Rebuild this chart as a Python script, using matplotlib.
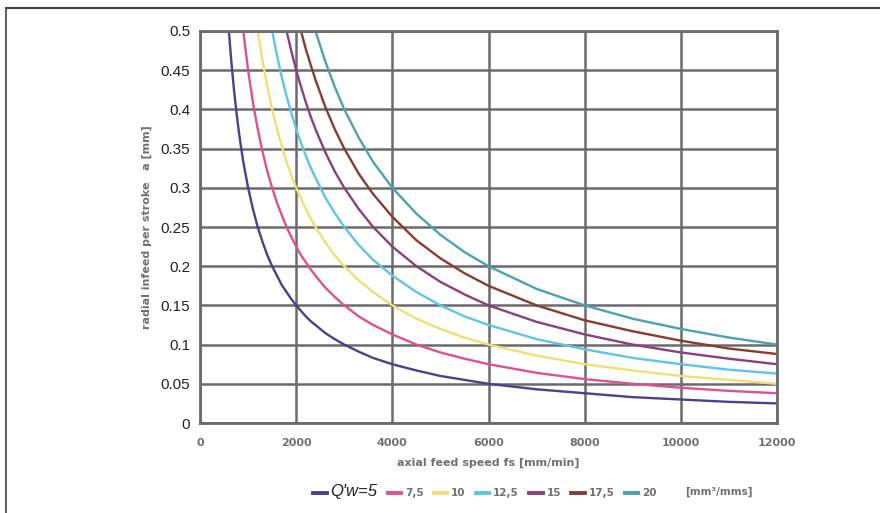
import matplotlib.pyplot as plt
from matplotlib.lines import Line2D

# axial feed speed fs [mm/min]
fs = [600, 650, 700, 750, 800, 850, 900, 1000, 1100, 1200, 1300, 1400, 1500, 1600,
      1700, 1800, 1900, 2000, 2100, 2200, 2300, 2400, 2600, 2800, 3000, 3300, 3600,
      4000, 4500, 5000, 5500, 6000, 7000, 8000, 9000, 10000, 11000, 12000]

# radial infeed per stroke a [mm] for each Q'w
a_5 = [.5, .462, .429, .4, .375, .353, .333, .3, .273, .25, .231, .214, .2, .188,
       .176, .167, .158, .15, .143, .136, .130, .125, .115, .107, .1, .091, .083,
       .075, .067, .06, .055, .05, .043, .038, .033, .03, .027, .025]
a_7_5 = [.75, .692, .643, .6, .563, .529, .5, .45, .409, .375, .346, .321, .3, .281,
         .265, .25, .237, .225, .214, .205, .196, .188, .173, .161, .15, .136, .125,
         .113, .1, .09, .082, .075, .064, .056, .05, .045, .041, .038]
a_10 = [1.0, .923, .857, .8, .75, .706, .667, .6, .545, .5, .462, .429, .4, .375,
        .353, .333, .316, .3, .286, .273, .261, .25, .231, .214, .2, .182, .167,
        .15, .133, .12, .109, .1, .086, .075, .067, .06, .055, .05]
a_12_5 = [1.25, 1.154, 1.071, 1.0, .938, .882, .833, .75, .682, .625, .577, .536, .5, .469,
          .441, .417, .395, .375, .357, .341, .326, .313, .288, .268, .25, .227, .208,
          .188, .167, .15, .136, .125, .107, .094, .083, .075, .068, .063]
a_15 = [1.5, 1.385, 1.286, 1.2, 1.125, 1.059, 1.0, .9, .818, .75, .692, .643, .6, .563,
        .529, .5, .474, .45, .429, .409, .391, .375, .346, .321, .3, .273, .25,
        .225, .2, .18, .164, .15, .129, .113, .1, .09, .082, .075]
a_17_5 = [1.75, 1.615, 1.5, 1.4, 1.313, 1.235, 1.167, 1.05, .955, .875, .808, .75, .7, .656,
          .618, .583, .553, .525, .5, .477, .457, .438, .404, .375, .35, .318, .292,
          .263, .233, .21, .191, .175, .15, .131, .117, .105, .095, .088]
a_20 = [2.0, 1.846, 1.714, 1.6, 1.5, 1.412, 1.333, 1.2, 1.091, 1.0, .923, .857, .8, .75,
        .706, .667, .632, .6, .571, .545, .522, .5, .462, .429, .4, .364, .333,
        .3, .267, .24, .218, .2, .171, .15, .133, .12, .109, .1]

labels = ["Q'w=5", "7,5", "10", "12,5", "15", "17,5", "20"]
series = [a_5, a_7_5, a_10, a_12_5, a_15, a_17_5, a_20]
colors = ["#4b3f8e", "#e0508f", "#f0df72", "#5ec5e6", "#8c3f7e", "#8a3b30", "#4aa2b2"]

xticks = [0, 2000, 4000, 6000, 8000, 10000, 12000]
yticks = [0, 0.05, 0.1, 0.15, 0.2, 0.25, 0.3, 0.35, 0.4, 0.45, 0.5]
ytick_labels = ["0", "0.05", "0.1", "0.15", "0.2", "0.25", "0.3", "0.35", "0.4", "0.45", "0.5"]

plt.rcParams['font.family'] = ['Liberation Sans', 'DejaVu Sans']
grey = '#707070'
small = dict(family='DejaVu Sans', size=8, weight='bold')

fig = plt.figure(figsize=(8.8, 5.13), dpi=100)
ax = fig.add_axes([0.2273, 0.1754, 0.6557, 0.7642])

for y, lab, c in zip(series, labels, colors):
    ax.plot(fs, y, color=c, lw=1.7, label=lab)

ax.set_xlim(0, 12000)
ax.set_ylim(0, 0.5)
ax.set_xticks(xticks)
ax.set_xticklabels([str(v) for v in xticks], fontdict=small, color=grey)
ax.set_yticks(yticks)
ax.set_yticklabels(ytick_labels, fontsize=11, color='#222222')
ax.tick_params(length=0, pad=7)
ax.tick_params(axis='x', pad=11)
ax.grid(True, color='#6b6b6b', lw=1.8)
ax.set_axisbelow(True)
for s in ax.spines.values():
    s.set_color('#6b6b6b')
    s.set_linewidth(2)

ax.set_xlabel("axial feed speed fs [mm/min]", fontdict=small, color=grey, labelpad=7)
ax.set_ylabel("radial infeed per stroke   a [mm]", fontdict=small, color=grey, labelpad=6)

leg = fig.legend(loc='center left', bbox_to_anchor=(0.345, 0.041), ncol=7, frameon=False,
                 handlelength=1.3, handletextpad=0.35, columnspacing=1.0,
                 prop={'family': 'DejaVu Sans', 'size': 7.5, 'weight': 'bold'})
for line in leg.get_lines():
    line.set_linewidth(2.8)
for i, t in enumerate(leg.get_texts()):
    if i == 0:
        t.set_fontfamily(['Liberation Sans', 'DejaVu Sans'])
        t.set_fontsize(12)
        t.set_fontstyle('italic')
        t.set_fontweight('normal')
        t.set_color('#222222')
    else:
        t.set_color(grey)
fig.text(0.778, 0.041, "[mm³/mms]", family='DejaVu Sans', fontsize=7.5, fontweight='bold',
         color=grey, va='center')

# outer frame (left and top)
fig.add_artist(Line2D([6 / 880, 6 / 880], [0, 1 - 8 / 513], color='#444444', lw=1.2))
fig.add_artist(Line2D([6 / 880, 1], [1 - 8 / 513, 1 - 8 / 513], color='#444444', lw=1.5))

fig.savefig("out.png", dpi=100)
